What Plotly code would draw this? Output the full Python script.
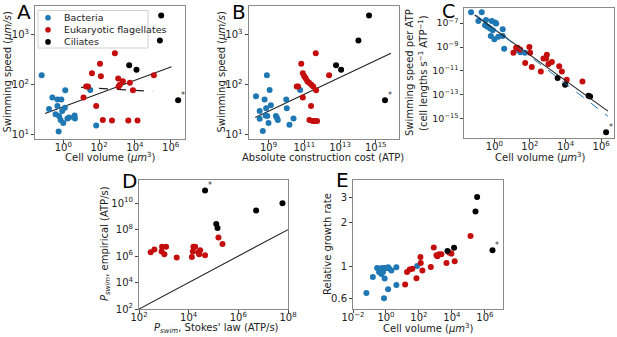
import numpy as np
import plotly.graph_objects as go

W, H = 617, 337
BLUE = "#1f77b4"
RED = "#c40d0d"
BLACK = "#000000"
FONT = "DejaVu Sans"

# ---------------- Panel A : swimming speed vs cell volume ----------------
a_bac_vol = [0.062, 0.245, 0.16, 0.47, 0.78, 0.47, 0.37, 0.58, 0.87, 1.23,
             1.29, 0.71, 1.0, 0.55, 1.7, 2.14, 4.27, 4.47, 32, 69]
a_bac_spd = [155, 56, 33, 51, 51, 38, 26, 24, 30, 35,
             78, 20, 17.4, 11.7, 21.4, 22.4, 24.5, 21.4, 79, 15.5]
a_euk_vol = [760, 112, 40, 126, 1170, 2140, 115000, 19, 24, 1230,
             1450, 5250, 7800, 13.5, 69, 162, 525, 4300, 14000]
a_euk_spd = [427, 263, 170, 148, 134, 117, 155, 93, 93, 93,
             100, 110, 78, 56, 38, 20, 19.5, 19.5, 19.5]
a_cil_vol = [295000, 250000, 4800, 12300, 2.6e6]
a_cil_spd = [2400, 760, 245, 200, 49]
a_fit_x = [0.0955, 1.12e6]
a_fit_y = [26.9, 229]
a_dash_x = [9.8, 1.05e5]
a_dash_y = [89, 74]

# ---------------- Panel B : swimming speed vs construction cost ----------------
b_bac_cost = [2.0e8, 3.2e8, 3.2e8, 4.8e8, 6.0e8, 7.4e8, 8.1e8, 6.9e8, 8.5e8, 1.15e9,
              1.0e9, 1.35e9, 2.6e9, 2.95e9, 3.3e9, 9.8e9, 1.05e10, 1.48e10, 2.5e10, 5.9e10]
b_bac_spd = [59, 30, 21, 12, 51, 34, 155, 24.5, 24, 79,
             17.4, 39, 24, 22, 20, 51, 34, 16, 21.4, 79]
b_euk_cost = [6.8e10, 4.4e11, 8.3e10, 2.45e12, 1.0e11, 1.2e11, 1.48e11, 1.86e11, 2.5e11, 3.16e11,
              3.8e10, 4.5e10, 4.6e11, 8.3e10, 2.4e11, 1.95e11, 2.95e11, 3.8e11, 5.2e11]
b_euk_spd = [263, 427, 170, 155, 148, 135, 117, 110, 100, 93,
             93, 93, 78, 56, 38, 20, 19, 19, 19]
b_cil_cost = [6.0e12, 1.15e13, 1.07e14, 4.2e14, 3.3e15]
b_cil_spd = [245, 200, 760, 2400, 49]
b_fit_x = [1.8e8, 7.1e15]
b_fit_y = [22.4, 427]

# ---------------- Panel C : speed per ATP vs cell volume ----------------
c_bac_vol = [0.049, 0.195, 0.126, 0.34, 0.30, 0.41, 0.71, 1.1, 1.26, 0.58,
             0.81, 0.63, 1.0, 1.66, 2.95, 2.95, 3.55, 22, 29, 52]
c_bac_val = [8.1e-7, 8.1e-7, 1.55e-7, 1.8e-7, 6.8e-8, 4.9e-8, 1.55e-7, 1.15e-7, 9.3e-8, 3.5e-8,
             2.6e-8, 8.3e-9, 4.4e-9, 7.4e-9, 3.1e-8, 8.3e-9, 7.2e-10, 5.5e-10, 3.7e-10, 3.3e-10]
c_euk_vol = [11.7, 16.6, 20, 28, 93, 102, 54, 126, 407, 575,
             813, 890, 1100, 1700, 4400, 6200, 11700, 89000]
c_euk_val = [3.3e-10, 8.7e-10, 8.9e-10, 6.3e-10, 1.0e-9, 3.3e-10, 4.7e-11, 2.1e-11, 9.1e-12, 1.07e-10,
             1.07e-10, 2.3e-10, 3.8e-11, 5.6e-11, 2.4e-11, 9.1e-12, 1.8e-12, 1.3e-12]
c_cil_vol = [3600, 9500, 1.95e5, 2.4e5, 1.9e6]
c_cil_val = [2.5e-12, 6.8e-13, 8.3e-14, 7.1e-14, 7.4e-17]
c_fit_x = [0.078, 2.4e6]
c_fit_y = [4.8e-7, 4.3e-15]
c_bfit_x = [0.1, 2.4e6]
c_bfit_y = [4.5e-7, 1.6e-15]

# ---------------- Panel D : empirical vs Stokes swimming power ----------------
d_euk_stokes = [295, 417, 813, 850, 1050, 1230, 3300, 13500, 14800, 15500,
                18200, 24500, 29000, 26300, 45700, 1.58e5, 2.3e5]
d_euk_emp = [1.95e6, 3.1e6, 2.2e6, 5.0e6, 1.4e6, 5.0e6, 7.8e5, 8.7e5, 2.2e6, 5.0e6,
             5.0e6, 1.86e6, 2.75e6, 1.4e6, 1.17e6, 2.5e7, 8.3e6]
d_cil_stokes = [45700, 1.29e5, 1.45e5, 5.2e6, 6.0e7]
d_cil_emp = [9.1e10, 2.6e8, 1.3e8, 2.8e9, 1.0e10]
d_line = [1e2, 1e8]

# ---------------- Panel E : relative growth rate vs cell volume ----------------
e_bac_vol = [0.065, 0.16, 0.29, 0.38, 0.48, 0.52, 0.46, 0.60, 0.76, 0.66,
             0.83, 0.76, 1.05, 1.35, 1.55, 2.14, 1.35, 4.27, 4.27, 78]
e_bac_rate = [0.65, 0.84, 0.97, 0.91, 0.93, 0.88, 0.96, 0.97, 0.97, 0.91,
              0.82, 0.60, 0.97, 0.98, 0.96, 0.93, 0.69, 0.98, 0.74, 1.0]
e_euk_vol = [14.5, 19, 27.5, 40, 71, 123, 129, 162, 525, 794,
             1150, 1320, 1660, 2290, 4680, 6760, 9330, 14800, 1.35e5]
e_euk_rate = [0.745, 0.908, 0.948, 0.958, 0.824, 1.156, 1.049, 0.933, 0.984, 1.343,
              1.187, 1.168, 1.206, 1.206, 1.049, 1.239, 1.219, 1.078, 1.611]
e_cil_vol = [5370, 13500, 2.7e5, 3.4e5, 2.9e6]
e_cil_rate = [1.273, 1.336, 2.38, 3.0, 1.286]
e_ref = 1.0

legend_names = ["Bacteria", "Eukaryotic flagellates", "Ciliates"]

fig = go.Figure()


def pts(x, y, color, ax):
    fig.add_trace(go.Scatter(x=x, y=y, mode="markers", xaxis="x" + ax, yaxis="y" + ax,
                             marker=dict(color=color, size=6, line=dict(width=0)),
                             showlegend=False, hoverinfo="skip"))


def line(x, y, ax, color="#222", dash="solid", width=1.1):
    fig.add_trace(go.Scatter(x=x, y=y, mode="lines", xaxis="x" + ax, yaxis="y" + ax,
                             line=dict(color=color, dash=dash, width=width),
                             showlegend=False, hoverinfo="skip"))


# A
line(a_fit_x, a_fit_y, "")
line(a_dash_x, a_dash_y, "", dash="dash")
pts(a_bac_vol, a_bac_spd, BLUE, "")
pts(a_euk_vol, a_euk_spd, RED, "")
pts(a_cil_vol, a_cil_spd, BLACK, "")
# B
line(b_fit_x, b_fit_y, "2")
pts(b_bac_cost, b_bac_spd, BLUE, "2")
pts(b_euk_cost, b_euk_spd, RED, "2")
pts(b_cil_cost, b_cil_spd, BLACK, "2")
# C
pts(c_bac_vol, c_bac_val, BLUE, "3")
pts(c_euk_vol, c_euk_val, RED, "3")
pts(c_cil_vol, c_cil_val, BLACK, "3")
line(c_fit_x, c_fit_y, "3")
line(c_bfit_x, c_bfit_y, "3", color=BLUE, dash="dash", width=1)
# D
line(d_line, d_line, "4")
pts(d_euk_stokes, d_euk_emp, RED, "4")
pts(d_cil_stokes, d_cil_emp, BLACK, "4")
# E
pts(e_bac_vol, e_bac_rate, BLUE, "5")
pts(e_euk_vol, e_euk_rate, RED, "5")
pts(e_cil_vol, e_cil_rate, BLACK, "5")


def pw(n):
    s = str(n).replace("-", "\u2212")
    return "10<sup>%s</sup>" % s


def xd(a, b):
    return [a / W, b / W]


def yd(top, bottom):
    return [1 - bottom / H, 1 - top / H]


def axis(domain, rng, exps=None, vals=None, texts=None, anchor=None, is_x=False, fsize=10):
    if exps is not None:
        vals = [10.0 ** e for e in exps]
        texts = [pw(e) for e in exps]
    return dict(domain=domain, type="log", range=rng,
                tickmode="array", tickvals=vals, ticktext=texts, automargin=False,
                showline=True, mirror=True, linecolor="#8a8a8a", linewidth=1,
                ticks="outside", ticklen=3, tickwidth=1, tickcolor="#444",
                ticklabelstandoff=-4 if is_x else 0,
                showgrid=False, zeroline=False, anchor=anchor,
                tickfont=dict(family=FONT, size=fsize, color="#222"))


P = {
    "": dict(x=(35, 185), y=(6, 139)),
    "2": dict(x=(248.5, 399), y=(6, 139)),
    "3": dict(x=(464.3, 614.3), y=(8, 138)),
    "4": dict(x=(139, 288), y=(180, 309)),
    "5": dict(x=(353, 503), y=(180, 309)),
}

lay = {}
lay["xaxis"] = axis(xd(*P[""]["x"]), [-1.58, 6.80], exps=[0, 2, 4, 6], anchor="y", is_x=True)
lay["yaxis"] = axis(yd(*P[""]["y"]), [0.92, 3.57], exps=[1, 2, 3], anchor="x")
lay["xaxis2"] = axis(xd(*P["2"]["x"]), [7.88, 16.3], exps=[9, 11, 13, 15], anchor="y2", is_x=True)
lay["yaxis2"] = axis(yd(*P["2"]["y"]), [0.92, 3.57], exps=[1, 2, 3], anchor="x2")
lay["xaxis3"] = axis(xd(*P["3"]["x"]), [-1.69, 6.74], exps=[0, 2, 4, 6], anchor="y3", is_x=True)
lay["yaxis3"] = axis(yd(*P["3"]["y"]), [-16.62, -5.73], exps=[-7, -9, -11, -13, -15], anchor="x3",
                     fsize=9.5)
lay["xaxis4"] = axis(xd(*P["4"]["x"]), [2, 8], exps=[2, 4, 6, 8], anchor="y4", is_x=True)
lay["yaxis4"] = axis(yd(*P["4"]["y"]), [2, 11.75], exps=[2, 4, 6, 8, 10], anchor="x4")
lay["xaxis5"] = axis(xd(*P["5"]["x"]), [-2, 7.1], exps=[-2, 0, 2, 4, 6], anchor="y5", is_x=True)
lay["yaxis5"] = axis(yd(*P["5"]["y"]), [-0.297, 0.595], vals=[0.6, 1, 2, 3],
                     texts=["0.6", "1", "2", "3"], anchor="x5")

ann = []


def text(x, y, t, size=10, angle=0, xanchor="center", yanchor="middle", color="#222"):
    ann.append(dict(x=x / W, y=1 - y / H, xref="paper", yref="paper", text=t, showarrow=False,
                    textangle=angle, xanchor=xanchor, yanchor=yanchor,
                    font=dict(family=FONT, size=size, color=color)))


# Panel letters
for lt, (lx, ly, fs) in {"A": (15, -2, 20), "B": (230, -2, 20), "C": (440, -2, 19),
                         "D": (120, 167, 20), "E": (334, 166, 20)}.items():
    text(lx, ly, lt, size=fs, xanchor="left", yanchor="top", color="#000")

vol_t = "Cell volume (<i>\u03bcm</i><sup>3</sup>)"
spd_t = "Swimming speed (<i>\u03bcm/s</i>)"
text(7, 72.5, spd_t, angle=-90)
text(110, 157, vol_t)
text(221, 72.5, spd_t, angle=-90)
text(323, 157, "Absolute construction cost (ATP)")
text(409, 73, "Swimming speed per ATP", angle=-90)
text(423, 73, "(cell lengths s<sup>\u22121</sup> ATP<sup>\u22121</sup>)", angle=-90)
text(540, 157, vol_t)
text(105, 244, "<i>P<sub>swim</sub></i>, empirical (ATP/s)", angle=-90)
text(216, 328, "<i>P<sub>swim</sub></i>, Stokes' law (ATP/s)")
text(327, 244, "Relative growth rate", angle=-90)
text(428, 328, vol_t)

# asterisks on the outlier ciliate in each panel
for ax, xv, yv in [("", a_cil_vol[4], a_cil_spd[4]), ("2", b_cil_cost[4], b_cil_spd[4]),
                   ("3", c_cil_vol[4], c_cil_val[4]), ("4", d_cil_stokes[0], d_cil_emp[0]),
                   ("5", e_cil_vol[4], e_cil_rate[4])]:
    ann.append(dict(x=np.log10(xv), y=np.log10(yv), xref="x" + ax, yref="y" + ax, text="*",
                    showarrow=False, xshift=5, yshift=5,
                    font=dict(family=FONT, size=8, color="#333")))

# legend in panel A (drawn manually)
shapes = [dict(type="rect", xref="paper", yref="paper", x0=38 / W, x1=148 / W,
               y0=1 - 48 / H, y1=1 - 10.5 / H, line=dict(color="#d0d0d0", width=1),
               fillcolor="rgba(255,255,255,0.85)", layer="above")]
for i, (nm, col) in enumerate(zip(legend_names, [BLUE, RED, BLACK])):
    cy = 17.7 + 12.1 * i
    r = 2.8
    shapes.append(dict(type="circle", xref="paper", yref="paper", x0=(48 - r) / W, x1=(48 + r) / W,
                       y0=1 - (cy + r) / H, y1=1 - (cy - r) / H, fillcolor=col,
                       line=dict(width=0), layer="above"))
    text(62, cy, nm, size=9.5, xanchor="left")

# reference line at relative growth rate = 1 in panel E
shapes.append(dict(type="line", xref="x5 domain", yref="y5", x0=0, x1=1,
                   y0=np.log10(e_ref), y1=np.log10(e_ref), line=dict(color="#444", width=2)))

fig.update_layout(width=W, height=H, margin=dict(l=0, r=0, t=0, b=0, autoexpand=False),
                  paper_bgcolor="white", plot_bgcolor="white",
                  annotations=ann, shapes=shapes, showlegend=False,
                  font=dict(family=FONT), **lay)

fig.write_html("out.html", config={"displayModeBar": False, "staticPlot": True},
               post_script="document.body.style.margin='0';document.body.style.padding='0';"
                           "document.body.style.overflow='hidden';")
